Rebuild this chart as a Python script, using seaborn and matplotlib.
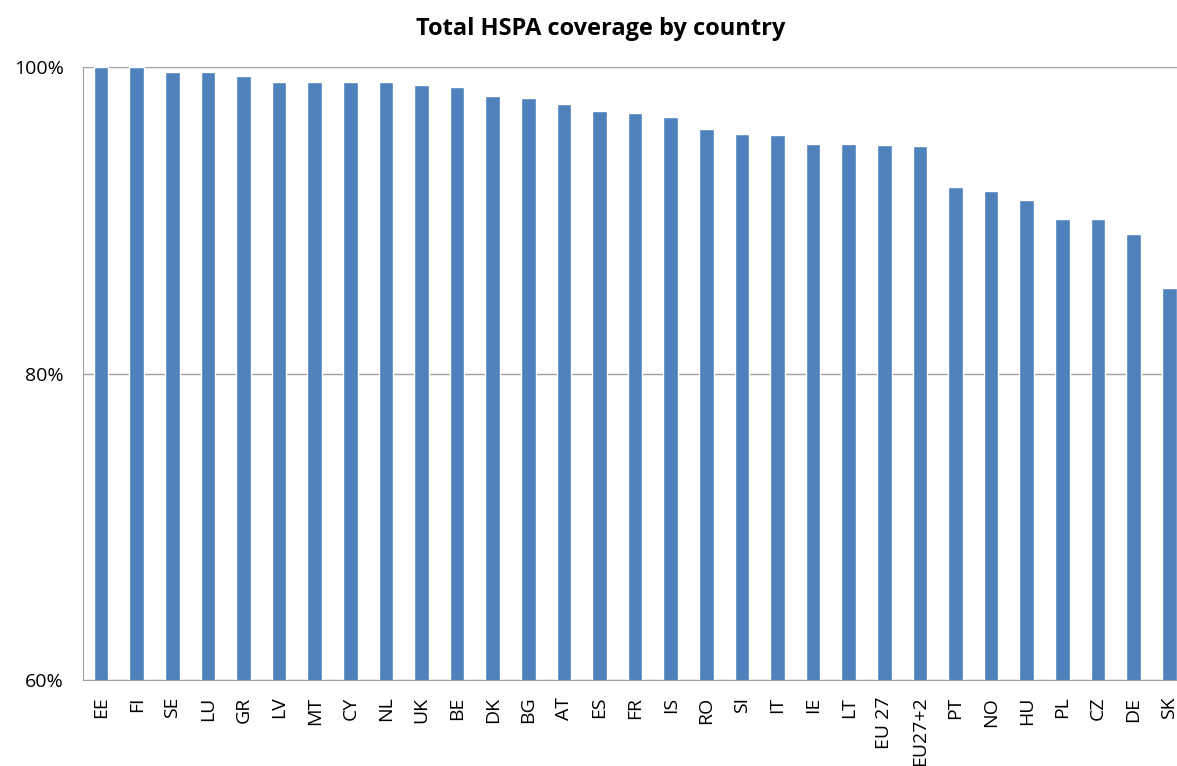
import numpy as np
import pandas as pd
import matplotlib
matplotlib.use("Agg")
import matplotlib.pyplot as plt
import seaborn as sns
from matplotlib.ticker import FuncFormatter, FixedLocator

countries = ['EE', 'FI', 'SE', 'LU', 'GR', 'LV', 'MT', 'CY', 'NL', 'UK',
             'BE', 'DK', 'BG', 'AT', 'ES', 'FR', 'IS', 'RO', 'SI', 'IT',
             'IE', 'LT', 'EU 27', 'EU27+2', 'PT', 'NO', 'HU', 'PL', 'CZ', 'DE', 'SK']
coverage = [1.000, 1.000, 0.9965, 0.9965, 0.994, 0.990, 0.990, 0.990, 0.990, 0.9885,
            0.987, 0.981, 0.980, 0.976, 0.971, 0.970, 0.9676, 0.9596, 0.9565, 0.9557,
            0.950, 0.950, 0.949, 0.9485, 0.922, 0.919, 0.913, 0.9005, 0.9005, 0.891, 0.8555]

df = pd.DataFrame({'country': countries, 'coverage': coverage})

sns.set_style("white")
plt.rcParams['font.family'] = ['Open Sans', 'DejaVu Sans']
plt.rcParams['text.color'] = 'black'
plt.rcParams['xtick.color'] = 'black'
plt.rcParams['ytick.color'] = 'black'

fig = plt.figure(figsize=(11.77, 7.66), dpi=100)
# plot area runs a little past the right edge, like the cropped original
ax = fig.add_axes([0.0708, 0.1123, 0.9377, 0.8002])

sns.barplot(data=df, x='country', y='coverage', color='#4F81BD', saturation=1,
            width=0.41, ax=ax)

ax.set_ylim(0.6, 1.0)
ax.set_xlim(-0.5, len(countries) - 0.5)
ax.set_yticks([0.6, 0.8, 1.0])
ax.yaxis.set_major_formatter(FuncFormatter(lambda v, p: f'{v*100:.0f}%'))
ax.yaxis.grid(True, color='#A0A0A0', linewidth=1)
ax.set_axisbelow(True)

ax.set_xlabel('')
ax.set_ylabel('')
ax.tick_params(axis='x', which='major', length=0, pad=12, labelsize=14, rotation=90)
ax.tick_params(axis='y', length=5, color='#A0A0A0', pad=9, labelsize=14)
ax.xaxis.set_minor_locator(FixedLocator(np.arange(-0.5, len(countries), 1.0)))
ax.tick_params(axis='x', which='minor', length=5, color='#A0A0A0', direction='out')

for side in ['top', 'right']:
    ax.spines[side].set_visible(False)
ax.spines['left'].set_color('#A0A0A0')
ax.spines['bottom'].set_color('#A0A0A0')

fig.text(0.5105, 0.962, 'Total HSPA coverage by country', ha='center', va='center',
         fontsize=17, fontweight='bold', color='black')

fig.savefig('out.png', dpi=100)
